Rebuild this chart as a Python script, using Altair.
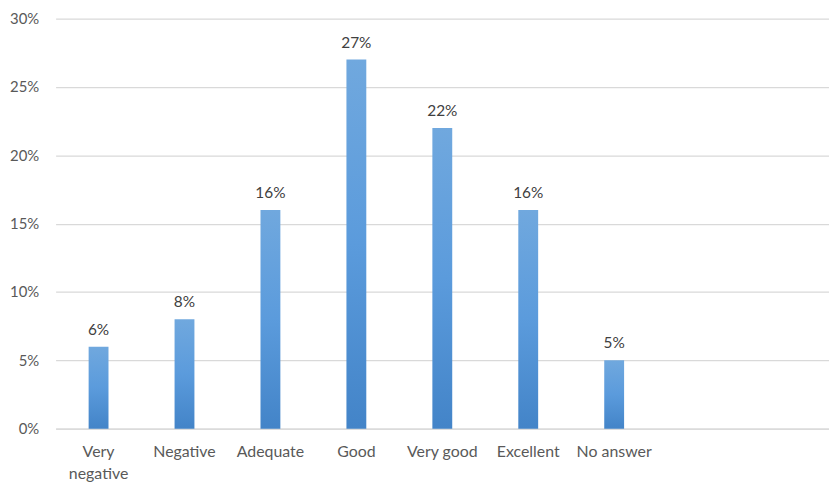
import altair as alt
import pandas as pd

# Survey ratings and their share of responses
categories = ["Very negative", "Negative", "Adequate", "Good", "Very good", "Excellent", "No answer"]
shares = [0.06, 0.08, 0.16, 0.27, 0.22, 0.16, 0.05]
# two trailing empty slots on the category axis
axis_slots = categories + [" ", "  "]
y_ticks = [0, 0.05, 0.10, 0.15, 0.20, 0.25, 0.30]

df = pd.DataFrame({"category": categories, "share": shares})

FONT = "Lato"
x = alt.X(
    "category:N",
    sort=axis_slots,
    scale=alt.Scale(domain=axis_slots, paddingInner=0, paddingOuter=0),
    axis=alt.Axis(
        title=None,
        labelAngle=0,
        labelExpr="datum.value == 'Very negative' ? ['Very', 'negative'] : datum.value",
        labelFont=FONT,
        labelFontSize=16,
        labelColor="#595959",
        labelPadding=15,
        labelLineHeight=22,
        ticks=False,
        domainColor="#d9d9d9",
        domainWidth=1.3,
        grid=False,
    ),
)
y = alt.Y(
    "share:Q",
    scale=alt.Scale(domain=[0, 0.30], nice=False),
    axis=alt.Axis(
        title=None,
        values=y_ticks,
        format=".0%",
        labelFont=FONT,
        labelFontSize=15,
        labelColor="#595959",
        labelPadding=17,
        ticks=False,
        domain=False,
        gridColor="#d9d9d9",
        gridWidth=1.3,
    ),
)

gradient = alt.LinearGradient(
    gradient="linear",
    x1=0, x2=0, y1=0, y2=1,
    stops=[
        alt.GradientStop(color="#70a8de", offset=0),
        alt.GradientStop(color="#5b9bdc", offset=0.5),
        alt.GradientStop(color="#4384c8", offset=1),
    ],
)

bars = alt.Chart(df).mark_bar(size=20, color=gradient).encode(x=x, y=y)
labels = alt.Chart(df).mark_text(
    baseline="bottom", dy=-9, font=FONT, fontSize=15.5, color="#404040"
).encode(x=x, y=y, text=alt.Text("share:Q", format=".0%"))

chart = (
    alt.layer(bars, labels)
    .properties(
        width=779,
        height=413,
        autosize=alt.AutoSizeParams(type="none"),
        padding={"left": 56, "top": 17, "right": 0, "bottom": 55},
        background="white",
    )
    .configure_view(stroke=None)
)

chart.save("out.html", embed_options={"renderer": "svg", "actions": False})
